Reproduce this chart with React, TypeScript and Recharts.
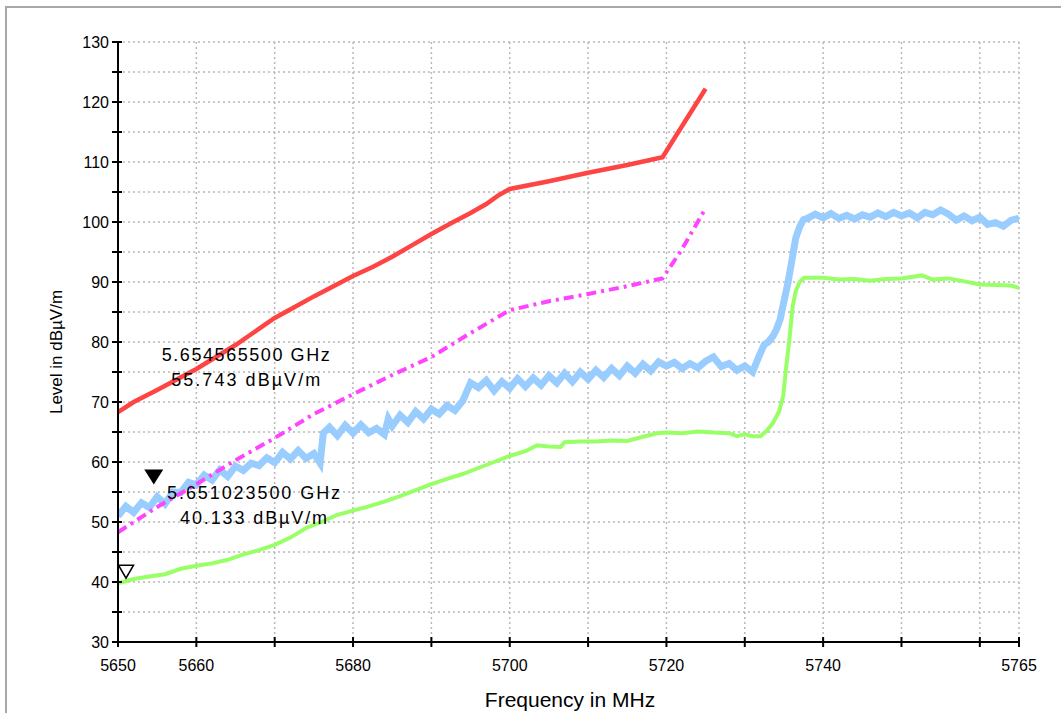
import {
  CartesianGrid,
  Line,
  LineChart,
  ReferenceDot,
  XAxis,
  YAxis,
} from "recharts";

// limit line (red)
const limitFreq = [5650, 5652, 5655, 5660, 5665, 5670, 5672.5, 5675, 5677.5, 5680, 5682.5, 5685, 5687.5, 5690, 5692.5, 5695, 5697, 5698.5, 5700, 5705, 5710, 5715, 5719.5, 5722, 5725];
const limitLevel = [68.3, 70.0, 72.0, 75.5, 79.5, 84.0, 85.8, 87.6, 89.3, 91.0, 92.5, 94.2, 96.1, 98.0, 99.8, 101.5, 103.0, 104.4, 105.5, 106.8, 108.2, 109.5, 110.8, 116.0, 122.2];

// limit minus margin (magenta, dash-dot)
const marginFreq = [5650, 5655, 5660, 5665, 5670, 5675, 5680, 5685, 5690, 5695, 5700, 5705, 5710, 5715, 5719.5, 5722, 5725];
const marginLevel = [48.3, 52.5, 56.3, 60.3, 64.0, 68.0, 71.3, 74.5, 77.5, 81.5, 85.3, 86.8, 88.0, 89.3, 90.6, 95.5, 102.3];

// peak trace (light blue)
const peakFreq = [
  5650, 5651, 5652, 5653, 5654, 5655, 5656, 5657, 5658, 5659, 5660, 5661, 5662, 5663, 5664, 5665, 5666, 5667, 5668, 5669,
  5670, 5671, 5672, 5673, 5674, 5675, 5675.8, 5676.2, 5677, 5678, 5679, 5680, 5681, 5682, 5683, 5684, 5684.5, 5685, 5686, 5687,
  5688, 5689, 5690, 5691, 5692, 5693, 5694, 5695, 5696, 5697, 5698, 5699, 5700, 5701, 5702, 5703, 5704, 5705, 5706, 5707,
  5708, 5709, 5710, 5711, 5712, 5713, 5714, 5715, 5716, 5717, 5718, 5719, 5720, 5721, 5722, 5723, 5724, 5725, 5726, 5727,
  5728, 5729, 5730, 5731, 5731.8, 5732.5, 5733, 5733.6, 5734, 5734.5, 5735, 5735.5, 5736, 5736.5, 5737, 5737.5, 5738, 5739, 5740, 5741,
  5742, 5743, 5744, 5745, 5746, 5747, 5748, 5749, 5750, 5751, 5752, 5753, 5754, 5755, 5756, 5757, 5758, 5759, 5760, 5761,
  5762, 5763, 5764, 5765,
];
const peakLevel = [
  51.0, 52.6, 51.6, 53.2, 52.4, 54.2, 53.0, 55.0, 54.9, 56.6, 56.2, 57.8, 57.0, 58.7, 57.6, 59.3, 58.6, 59.8, 59.4, 60.7,
  59.9, 61.6, 60.5, 61.9, 60.6, 61.4, 59.8, 64.8, 65.8, 64.4, 66.1, 64.8, 66.2, 64.9, 65.6, 64.6, 67.2, 66.0, 67.8, 66.6,
  68.4, 67.2, 68.8, 68.0, 69.4, 68.6, 70.2, 73.2, 72.4, 73.6, 71.9, 73.4, 72.3, 73.9, 72.6, 74.0, 72.8, 74.4, 73.2, 74.8,
  73.4, 75.0, 73.8, 75.3, 74.1, 75.6, 74.4, 76.0, 74.8, 76.3, 75.2, 76.7, 76.0, 76.6, 75.6, 76.4, 75.7, 76.8, 77.5, 75.9,
  76.4, 75.3, 76.0, 75.0, 77.6, 79.6, 80.0, 81.0, 82.0, 83.7, 86.8, 89.8, 93.5, 97.3, 99.2, 100.4, 100.6, 101.3, 100.7, 101.4,
  100.6, 101.1, 100.5, 101.2, 100.8, 101.5, 100.9, 101.6, 101.0, 101.5, 100.7, 101.6, 101.2, 102.0, 101.3, 100.3, 101.0, 100.2, 100.8, 99.6,
  99.9, 99.3, 100.3, 100.6,
];

// average trace (green)
const avgFreq = [
  5650, 5652, 5654, 5656, 5658, 5660, 5662, 5664, 5666, 5668, 5670, 5672, 5674, 5676, 5678, 5680, 5682, 5684, 5686, 5688,
  5690, 5692, 5694, 5696, 5698, 5700, 5702, 5703.5, 5705, 5706.5, 5707, 5709, 5711, 5713, 5715, 5717, 5718.8, 5720, 5722, 5724,
  5726, 5728, 5729, 5730, 5731, 5732, 5732.8, 5733.6, 5734.4, 5734.9, 5735.3, 5735.7, 5736.1, 5736.5, 5737, 5737.6, 5740, 5742, 5744, 5746,
  5748, 5750, 5752.6, 5754, 5756, 5758, 5760, 5762, 5764, 5765,
];
const avgLevel = [
  39.8, 40.5, 40.9, 41.3, 42.2, 42.7, 43.1, 43.7, 44.6, 45.3, 46.2, 47.4, 49.0, 50.0, 51.2, 51.9, 52.6, 53.4, 54.3, 55.3,
  56.3, 57.2, 58.0, 59.0, 60.0, 61.0, 61.8, 62.8, 62.6, 62.5, 63.3, 63.4, 63.4, 63.6, 63.5, 64.2, 64.8, 64.9, 64.8, 65.1,
  64.9, 64.8, 64.3, 64.6, 64.3, 64.3, 65.2, 66.5, 68.5, 71.0, 76.0, 80.5, 85.8, 88.5, 90.0, 90.7, 90.7, 90.4, 90.5, 90.2,
  90.5, 90.6, 91.1, 90.4, 90.6, 90.1, 89.6, 89.5, 89.4, 89.0,
];

const xTicks = [5650, 5660, 5670, 5680, 5690, 5700, 5710, 5720, 5730, 5740, 5750, 5760, 5765];
const xLabeled = [5650, 5660, 5680, 5700, 5720, 5740, 5765];
const yTicks = [30, 35, 40, 45, 50, 55, 60, 65, 70, 75, 80, 85, 90, 95, 100, 105, 110, 115, 120, 125, 130];

const markerFreq = [5654.5655, 5651.0235];
const markerLevel = [55.743, 40.133];
const markerText = [
  ["5.654565500 GHz", "55.743 dBµV/m"],
  ["5.651023500 GHz", "40.133 dBµV/m"],
];
// where each marker readout sits (in chart units)
const readoutFreq = [5666.3, 5667.3];
const readoutLevel = [77.8, 54.8];

const toRows = (fs: number[], vs: number[]) => fs.map((f, i) => ({ f, v: vs[i] }));

const FONT = '"Liberation Sans", Arial, sans-serif';

const XTick = (props: any) => {
  const { x, y, payload } = props;
  const show = xLabeled.includes(payload.value);
  return (
    <g>
      <line x1={x} x2={x} y1={y - 5} y2={y + 5} stroke="#000" strokeWidth={2} />
      {show && (
        <text x={x} y={y + 23} textAnchor="middle" dominantBaseline="central" fontSize={16} fontFamily={FONT} fill="#000">
          {payload.value}
        </text>
      )}
    </g>
  );
};

const YTick = (props: any) => {
  const { x, y, payload } = props;
  const show = payload.value % 10 === 0;
  return (
    <g>
      <line x1={x - 6} x2={x + 4} y1={y} y2={y} stroke="#000" strokeWidth={2} />
      {show && (
        <text x={x - 9} y={y} textAnchor="end" dominantBaseline="central" fontSize={16} fontFamily={FONT} fill="#000">
          {payload.value}
        </text>
      )}
    </g>
  );
};

const readoutShape = (idx: number) => (p: any) => {
  const { cx, cy } = p;
  const widths = idx === 0 ? [168, 149] : [173, 147];
  return (
    <g>
      {markerText[idx].map((t, i) => (
        <text
          key={i}
          x={cx}
          y={cy + i * 25}
          textAnchor="middle"
          dominantBaseline="central"
          fontSize={18}
          fontFamily={FONT}
          fill="#000"
          textLength={widths[i]}
          lengthAdjust="spacing"
        >
          {t}
        </text>
      ))}
    </g>
  );
};

const filledMarker = (p: any) => {
  const { cx, cy } = p;
  return <path d={`M${cx - 9.5},${cy - 18} L${cx + 9.5},${cy - 18} L${cx},${cy - 3} Z`} fill="#000" />;
};

const openMarker = (p: any) => {
  const { cx, cy } = p;
  return (
    <path
      d={`M${cx - 7.5},${cy - 16} L${cx + 7.5},${cy - 16} L${cx},${cy - 3} Z`}
      fill="none"
      stroke="#000"
      strokeWidth={1.5}
    />
  );
};

export default function App() {
  return (
    <div style={{ position: "absolute", left: 0, top: 0, width: 1061, height: 713, background: "#fff", overflow: "hidden" }}>
      <div
        style={{
          position: "absolute",
          left: 5,
          top: 6,
          width: 1100,
          height: 800,
          borderTop: "2px solid #a8a8a8",
          borderLeft: "2px solid #a8a8a8",
        }}
      />
      <div style={{ position: "absolute", left: 0, top: 0 }}>
        <LineChart width={1061} height={713} margin={{ top: 42, right: 42, bottom: 41, left: 58 }}>
          <CartesianGrid stroke="#b8b8b8" strokeDasharray="2 3" strokeWidth={1.5} />
          <XAxis
            type="number"
            dataKey="f"
            domain={[5650, 5765]}
            ticks={xTicks}
            allowDataOverflow
            height={30}
            tickSize={0}
            tickMargin={0}
            tickLine={false}
            axisLine={{ stroke: "#000", strokeWidth: 2 }}
            tick={<XTick />}
            interval={0}
          />
          <YAxis
            type="number"
            domain={[30, 130]}
            ticks={yTicks}
            allowDataOverflow
            width={60}
            tickSize={0}
            tickMargin={0}
            tickLine={false}
            axisLine={{ stroke: "#000", strokeWidth: 2 }}
            tick={<YTick />}
            interval={0}
          />
          <Line
            data={toRows(peakFreq, peakLevel)}
            dataKey="v"
            stroke="#99ccff"
            strokeWidth={7}
            dot={false}
            isAnimationActive={false}
          />
          <Line
            data={toRows(avgFreq, avgLevel)}
            dataKey="v"
            stroke="#99ff66"
            strokeWidth={4}
            dot={false}
            isAnimationActive={false}
          />
          <Line
            data={toRows(marginFreq, marginLevel)}
            dataKey="v"
            stroke="#ff44ff"
            strokeWidth={4}
            strokeDasharray="10 5 3 5"
            dot={false}
            isAnimationActive={false}
          />
          <Line
            data={toRows(limitFreq, limitLevel)}
            dataKey="v"
            stroke="#ff4444"
            strokeWidth={4.5}
            dot={false}
            isAnimationActive={false}
          />
          <ReferenceDot x={markerFreq[0]} y={markerLevel[0]} r={0} shape={filledMarker} />
          <ReferenceDot x={markerFreq[1]} y={markerLevel[1]} r={0} shape={openMarker} />
          <ReferenceDot x={readoutFreq[0]} y={readoutLevel[0]} r={0} shape={readoutShape(0)} />
          <ReferenceDot x={readoutFreq[1]} y={readoutLevel[1]} r={0} shape={readoutShape(1)} />
        </LineChart>
        <div
          style={{
            position: "absolute",
            left: 570,
            top: 700,
            transform: "translate(-50%, -50%)",
            fontFamily: FONT,
            fontSize: 21,
            lineHeight: "24px",
            whiteSpace: "nowrap",
            color: "#000",
          }}
        >
          Frequency in MHz
        </div>
        <div
          style={{
            position: "absolute",
            left: 57,
            top: 352,
            transform: "translate(-50%, -50%) rotate(-90deg)",
            fontFamily: FONT,
            fontSize: 17,
            whiteSpace: "nowrap",
            color: "#000",
          }}
        >
          Level in dBµV/m
        </div>
      </div>
    </div>
  );
}
